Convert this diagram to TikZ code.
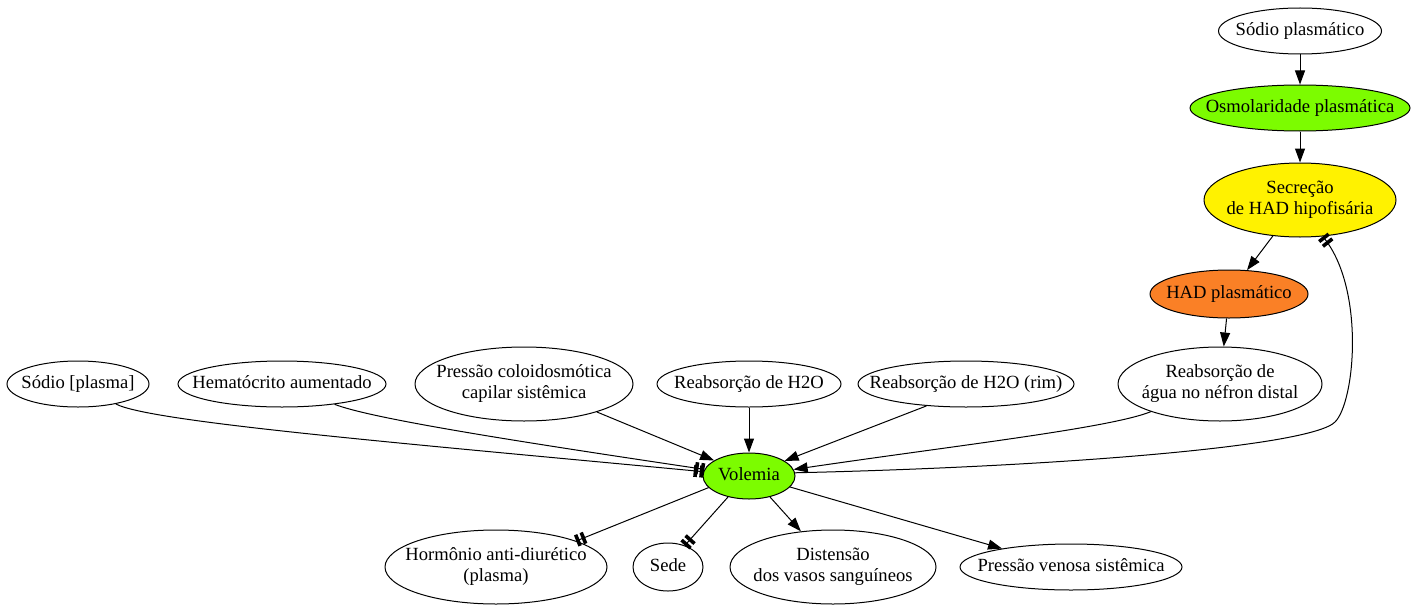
\documentclass[tikz,border=0pt]{standalone}
\usepackage{fontspec}
\setmainfont{Liberation Serif}
\usepackage{xcolor}
\usetikzlibrary{shapes,arrows.meta}
\definecolor{lawngreen}{RGB}{124,252,0}
\definecolor{hadorange}{RGB}{250,128,38}
\newcommand{\lbl}[1]{\makebox[0pt]{\raisebox{-1pt}{\begin{tabular}{@{}c@{}}#1\end{tabular}}}}

\begin{document}
\begin{tikzpicture}[x=0.5pt,y=-0.5pt]
\tikzstyle{every node}+=[inner sep=0pt]
\tikzstyle{varnode}=[draw=black,ellipse,line width=0.5pt,font=\fontsize{9.3}{10.5}\selectfont]
\tikzstyle{edge}=[line width=0.5pt,-{Triangle[length=7pt,width=5pt]}]
\tikzstyle{inhib}=[line width=0.5pt,-{Bar[width=6pt,line width=1.8pt,sep=1.2pt]Bar[width=6pt,line width=1.8pt]}]
\useasboundingbox (0,0) rectangle (1416,610);
\node[varnode,minimum width=81.5pt,minimum height=23pt] (sp) at (1300,31) {\lbl{Sódio plasmático}};
\node[varnode,fill=lawngreen,minimum width=110pt,minimum height=23pt] (osm) at (1300,108) {\lbl{Osmolaridade plasmática}};
\node[varnode,fill=yellow,minimum width=96pt,minimum height=37pt] (sec) at (1300,200) {\lbl{Secreção\\de HAD hipofisária}};
\node[varnode,fill=hadorange,minimum width=79pt,minimum height=24pt] (had) at (1229,294) {\lbl{HAD plasmático}};
\node[varnode,minimum width=102pt,minimum height=37pt] (dist) at (1220,384) {\lbl{Reabsorção de\\água no néfron distal}};
\node[varnode,minimum width=108pt,minimum height=23pt] (rim) at (966,384) {\lbl{Reabsorção de H2O (rim)}};
\node[varnode,minimum width=92pt,minimum height=23pt] (h2o) at (749,384) {\lbl{Reabsorção de H2O}};
\node[varnode,minimum width=109pt,minimum height=37pt] (colo) at (524,384) {\lbl{Pressão coloidosmótica\\capilar sistêmica}};
\node[varnode,minimum width=104pt,minimum height=23pt] (hem) at (282,384) {\lbl{Hematócrito aumentado}};
\node[varnode,minimum width=71pt,minimum height=23pt] (sod) at (78,384) {\lbl{Sódio [plasma]}};
\node[varnode,fill=lawngreen,minimum width=46pt,minimum height=23pt] (vol) at (749,476) {\lbl{Volemia}};
\node[varnode,minimum width=111pt,minimum height=37pt] (horm) at (496,567) {\lbl{Hormônio anti-diurético\\(plasma)}};
\node[varnode,minimum width=35pt,minimum height=24pt] (sede) at (668,567) {\lbl{Sede}};
\node[varnode,minimum width=103pt,minimum height=37pt] (vasos) at (833,567) {\lbl{Distensão\\dos vasos sanguíneos}};
\node[varnode,minimum width=111pt,minimum height=23pt] (pv) at (1071,567) {\lbl{Pressão venosa sistêmica}};
\draw[edge] (sp) -- (osm);
\draw[edge] (osm) -- (sec);
\draw[edge] (sec) -- (had);
\draw[edge] (had) -- (dist);
\draw[edge] (dist) .. controls (1110,428) and (960,445) .. (vol);
\draw[inhib] (vol.4) .. controls (1050,467) and (1310,447) .. (1335,422) .. controls (1355,402) and (1365,290) .. (sec.-58);
\draw[edge] (rim.209) -- (vol.23);
\draw[edge] (h2o) -- (vol);
\draw[edge] (colo.-21) -- (vol.156);
\draw[inhib] (hem) .. controls (370,418) and (500,439) .. (vol);
\draw[inhib] (sod) .. controls (150,422) and (400,443) .. (vol);
\draw[inhib] (vol.196) -- (horm.18);
\draw[inhib] (vol.225) -- (sede.52);
\draw[edge] (vol.-45) -- (vasos.132);
\draw[edge] (vol.-15) -- (pv.165);
\end{tikzpicture}
\end{document}
